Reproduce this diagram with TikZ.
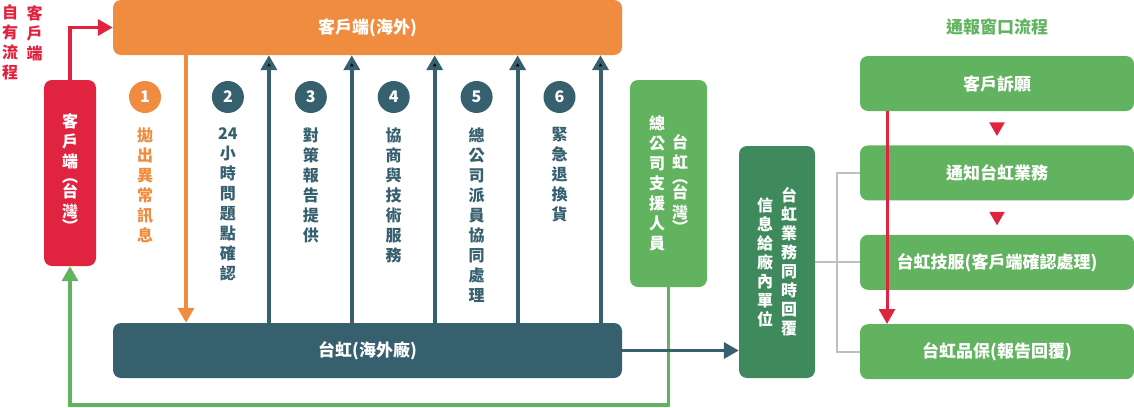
\documentclass[tikz,border=0pt]{standalone}
\usepackage{fontspec}
\setmainfont{Noto Sans CJK TC}
\usepackage{tikz}
\usetikzlibrary{arrows.meta,positioning,shapes.geometric}
\definecolor{hfOrange}{HTML}{EF8C40}
\definecolor{hfTeal}{HTML}{37606F}
\definecolor{hfRed}{HTML}{E0233F}
\definecolor{hfGreen}{HTML}{62B35F}
\definecolor{hfDkGreen}{HTML}{3F8A5C}
\definecolor{hfGray}{HTML}{BFBFBF}
\tikzstyle{box}=[rounded corners=8pt,inner sep=0pt,text=white,font=\fontsize{17}{20}\selectfont\bfseries]
\tikzstyle{wide}=[box,minimum width=509pt,minimum height=55pt]
\tikzstyle{flowbox}=[box,fill=hfGreen,minimum width=274pt,minimum height=55pt]
\tikzstyle{num}=[circle,minimum size=32pt,inner sep=0pt,text=white,font=\fontsize{16}{16}\selectfont\bfseries]
\tikzstyle{vtext}=[align=center,inner sep=0pt,font=\fontsize{16}{20}\selectfont\bfseries]
\tikzstyle{uparrow}=[->,line width=4pt,draw=hfTeal]
\tikzstyle{tri}=[regular polygon,regular polygon sides=3,shape border rotate=180,minimum size=18pt,inner sep=0pt,fill=hfRed]
\tikzstyle{bracket}=[line width=2pt,draw=hfGray]

\begin{document}
\begin{tikzpicture}[x=1pt,y=-1pt,>={Triangle[width=16pt,length=15pt]}]
\useasboundingbox (0,0) rectangle (1134,407);
% overseas side
\node[wide,fill=hfOrange] (overseas) at (367.5,27.5) {客戶端(海外)};
\node[wide,fill=hfTeal] (plant) at (367.5,350.5) {台虹(海外廠)};
\node[box,fill=hfRed,minimum width=52pt,minimum height=186pt] (client) at (70,173) {};
\node[vtext,text=white] (client-t) at (client.center) {客\\戶\\端\\[-5pt]︵\\[-5pt]台\\灣\\[-5pt]︶};
\node[vtext,text=hfRed,anchor=north] (own-r) at (34.5,5) {客\\戶\\端};
\node[vtext,text=hfRed,anchor=north] (own-l) at (10,5) {自\\有\\流\\程};
% steps
\node[num,fill=hfOrange] (n1) at (145,97) {1};
\node[num,fill=hfTeal] (n2) [right=50.5pt of n1] {2};
\node[num,fill=hfTeal] (n3) [right=50.5pt of n2] {3};
\node[num,fill=hfTeal] (n4) [right=50.5pt of n3] {4};
\node[num,fill=hfTeal] (n5) [right=50.5pt of n4] {5};
\node[num,fill=hfTeal] (n6) [right=50.5pt of n5] {6};
\node[vtext,text=hfOrange,below=14pt of n1] (t1) {拋\\出\\異\\常\\訊\\息};
\node[vtext,text=hfTeal,below=14pt of n2] (t2) {24\\小\\時\\問\\題\\點\\確\\認};
\node[vtext,text=hfTeal,below=14pt of n3] (t3) {對\\策\\報\\告\\提\\供};
\node[vtext,text=hfTeal,below=14pt of n4] (t4) {協\\商\\與\\技\\術\\服\\務};
\node[vtext,text=hfTeal,below=14pt of n5] (t5) {總\\公\\司\\派\\員\\協\\同\\處\\理};
\node[vtext,text=hfTeal,below=14pt of n6] (t6) {緊\\急\\退\\換\\貨};
\coordinate (a1) at ([xshift=41pt]n1.center);
\coordinate (a2) at ([xshift=41pt]n2.center);
\coordinate (a3) at ([xshift=41pt]n3.center);
\coordinate (a4) at ([xshift=41pt]n4.center);
\coordinate (a5) at ([xshift=41pt]n5.center);
\coordinate (a6) at ([xshift=41pt]n6.center);
\draw[->,line width=3.5pt,draw=hfOrange] (a1 |- overseas.south) -- (a1 |- plant.north);
\path[uparrow]
  (a2 |- plant.north) edge (a2 |- overseas.south)
  (a3 |- plant.north) edge (a3 |- overseas.south)
  (a4 |- plant.north) edge (a4 |- overseas.south)
  (a5 |- plant.north) edge (a5 |- overseas.south)
  (a6 |- plant.north) edge (a6 |- overseas.south);
% Taiwan side
\node[box,fill=hfGreen,minimum width=77pt,minimum height=207pt] (support) at (668.5,183.5) {};
\node[vtext,text=white] (support-r) at ([xshift=11.5pt]support.center) {台\\虹\\[-5pt]︵\\[-5pt]台\\灣\\[-5pt]︶};
\node[vtext,text=white] (support-l) at ([xshift=-11.5pt]support.center) {總\\公\\司\\支\\援\\人\\員};
\node[box,fill=hfDkGreen,minimum width=76pt,minimum height=232pt] (reply) at (777,262) {};
\node[vtext,text=white,font=\fontsize{16}{19}\selectfont\bfseries] (reply-r) at ([xshift=12pt]reply.center) {台\\虹\\業\\務\\同\\時\\回\\覆};
\node[vtext,text=white,font=\fontsize{16}{19}\selectfont\bfseries] (reply-l) at ([xshift=-12pt]reply.center) {信\\息\\給\\廠\\內\\單\\位};
\coordinate (base) at (0,405);
\draw[->,line width=3.5pt,draw=hfRed] (client.north) |- (overseas.west);
\draw[->,line width=3.5pt,draw=hfGreen] (support.south) -- (support.south |- base) -| (client.south);
\draw[->,line width=3.5pt,draw=hfTeal] (plant.east) -- (plant.east -| reply.west);
% reporting window
\node[flowbox] (complaint) at (997,83.5) {客戶訴願};
\node[flowbox,below=34pt of complaint] (notify) {通知台虹業務};
\node[flowbox,below=34pt of notify] (tech) {台虹技服(客戶端確認處理)};
\node[flowbox,below=34pt of tech] (qa) {台虹品保(報告回覆)};
\node[inner sep=0pt,text=hfGreen,font=\fontsize{17}{20}\selectfont\bfseries,above=20pt of complaint] (title) {通報窗口流程};
\node[tri,below=11pt of complaint] (tri1) {};
\node[tri,below=11pt of notify] (tri2) {};
\draw[->,line width=3pt,draw=hfRed] ([xshift=-110pt]complaint.south) -- ([xshift=-110pt]qa.north);
\coordinate (bus) at ([xshift=22pt]reply.east);
\draw[bracket] (reply.east) -- (reply.east -| tech.west);
\draw[bracket] (notify.west) -| (bus) |- (qa.west);
\end{tikzpicture}
\end{document}
